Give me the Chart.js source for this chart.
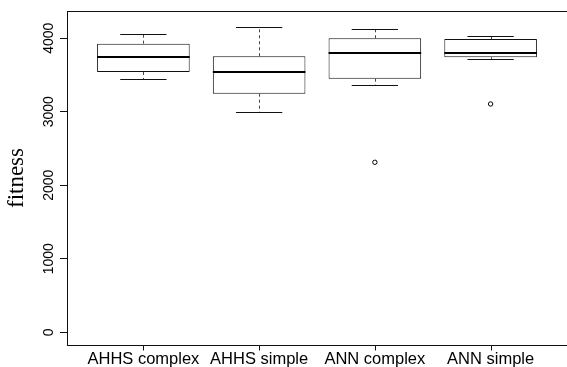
<!DOCTYPE html>
<html>
<head>
<meta charset="utf-8">
<script src="https://cdn.jsdelivr.net/npm/chart.js@4.4.1/dist/chart.umd.min.js"></script>
<style>
  html, body { margin: 0; padding: 0; background: #fff; overflow: hidden; }
  #wrap { width: 572px; height: 367px; }
</style>
</head>
<body>
<div id="wrap"><canvas id="chart" width="572" height="367"></canvas></div>
<script>
/* ── Data ── */
const categories  = ['AHHS complex', 'AHHS simple', 'ANN complex', 'ANN simple'];
const whiskerLow  = [3446, 2993, 3361, 3718];
const quart1      = [3542, 3246, 3450, 3741];
const medians     = [3746, 3537, 3796, 3804];
const quart3      = [3927, 3755, 4000, 3990];
const whiskerHigh = [4063, 4158, 4131, 4031];
const outlierCat  = ['ANN complex', 'ANN simple'];
const outlierVal  = [2313, 3106];
const yTicks      = [0, 1000, 2000, 3000, 4000];

const BOX_FRAC = 0.8;   // box width in category units
const CAP_FRAC = 0.4;   // whisker cap width
const X_TICK_LEN = 5;

const catPos = name => categories.indexOf(name) + 1;

/* ── Plugin: frame, x tick marks, whiskers, caps, medians ── */
const boxExtras = {
  id: 'boxExtras',
  afterDatasetsDraw(chart) {
    const { ctx, chartArea, scales: { x, y } } = chart;
    ctx.save();
    categories.forEach((c, i) => {
      const cx = x.getPixelForValue(i + 1);
      const half = (x.getPixelForValue(i + 1 + BOX_FRAC / 2) - x.getPixelForValue(i + 1 - BOX_FRAC / 2)) / 2;
      const capHalf = (x.getPixelForValue(i + 1 + CAP_FRAC / 2) - x.getPixelForValue(i + 1 - CAP_FRAC / 2)) / 2;
      const px = Math.round(cx) + 0.5;

      // dashed whiskers
      ctx.strokeStyle = '#444';
      ctx.lineWidth = 1;
      ctx.setLineDash([3, 3]);
      ctx.beginPath();
      ctx.moveTo(px, y.getPixelForValue(quart3[i]));
      ctx.lineTo(px, y.getPixelForValue(whiskerHigh[i]));
      ctx.moveTo(px, y.getPixelForValue(quart1[i]));
      ctx.lineTo(px, y.getPixelForValue(whiskerLow[i]));
      ctx.stroke();

      // caps
      ctx.setLineDash([]);
      ctx.strokeStyle = '#111';
      ctx.beginPath();
      [whiskerHigh[i], whiskerLow[i]].forEach(v => {
        const py = Math.round(y.getPixelForValue(v)) + 0.5;
        ctx.moveTo(cx - capHalf, py);
        ctx.lineTo(cx + capHalf, py);
      });
      // x axis tick mark
      const by = Math.round(chartArea.bottom) + 0.5;
      ctx.moveTo(px, by);
      ctx.lineTo(px, by + X_TICK_LEN);
      ctx.stroke();

      // median
      ctx.strokeStyle = '#000';
      ctx.lineWidth = 2;
      ctx.beginPath();
      const my = Math.round(y.getPixelForValue(medians[i]));
      ctx.moveTo(cx - half, my);
      ctx.lineTo(cx + half, my);
      ctx.stroke();
    });

    // plot frame
    ctx.lineWidth = 1;
    ctx.strokeStyle = '#111';
    ctx.strokeRect(Math.round(chartArea.left) + 0.5, Math.round(chartArea.top) + 0.5,
      Math.round(chartArea.right - chartArea.left), Math.round(chartArea.bottom - chartArea.top));
    ctx.restore();
  }
};

const sans = "'Liberation Sans', Arial, sans-serif";

new Chart(document.getElementById('chart'), {
  type: 'bar',
  data: {
    datasets: [{
      label: 'box',
      data: categories.map((c, i) => ({ x: i + 1, y: [quart1[i], quart3[i]] })),
      backgroundColor: '#fff',
      borderColor: '#111',
      borderWidth: 1,
      borderSkipped: false,
      categoryPercentage: BOX_FRAC,
      barPercentage: 1,
    }, {
      type: 'scatter',
      label: 'outliers',
      data: outlierCat.map((c, i) => ({ x: catPos(c), y: outlierVal[i] })),
      pointStyle: 'circle',
      pointRadius: 2.2,
      borderColor: '#000',
      borderWidth: 1,
      backgroundColor: 'rgba(0,0,0,0)',
    }],
  },
  options: {
    responsive: false,
    animation: false,
    devicePixelRatio: 1,
    layout: { padding: { top: 11, left: 0, right: 2, bottom: 0 } },
    plugins: { legend: { display: false }, tooltip: { enabled: false } },
    scales: {
      x: {
        type: 'linear',
        offset: false,
        min: 0.34,
        max: 4.66,
        afterBuildTicks: s => { s.ticks = categories.map((c, i) => ({ value: i + 1 })); },
        afterFit: s => { s.height = 22; },
        border: { display: false },
        grid: { display: false, drawTicks: true, tickLength: 5 },
        ticks: {
          autoSkip: false, maxRotation: 0, padding: 0, color: '#000',
          font: { family: sans, size: 16.5 },
          callback: v => categories[v - 1] ?? '',
        },
      },
      y: {
        min: -173,
        max: 4371,
        afterBuildTicks: s => { s.ticks = yTicks.map(v => ({ value: v })); },
        afterFit: s => { s.width = 67; },
        border: { display: false },
        grid: { drawOnChartArea: false, drawTicks: true, tickLength: 7, color: '#111' },
        ticks: {
          minRotation: 90, maxRotation: 90, crossAlign: 'center', padding: -5,
          color: '#000', font: { family: sans, size: 14 }, callback: v => String(v),
        },
        title: {
          display: true, text: 'fitness', color: '#000', padding: { top: 3, bottom: 0 },
          font: { family: "'Liberation Serif', 'Times New Roman', serif", size: 23 },
        },
      },
    },
  },
  plugins: [boxExtras],
});
</script>
</body>
</html>
